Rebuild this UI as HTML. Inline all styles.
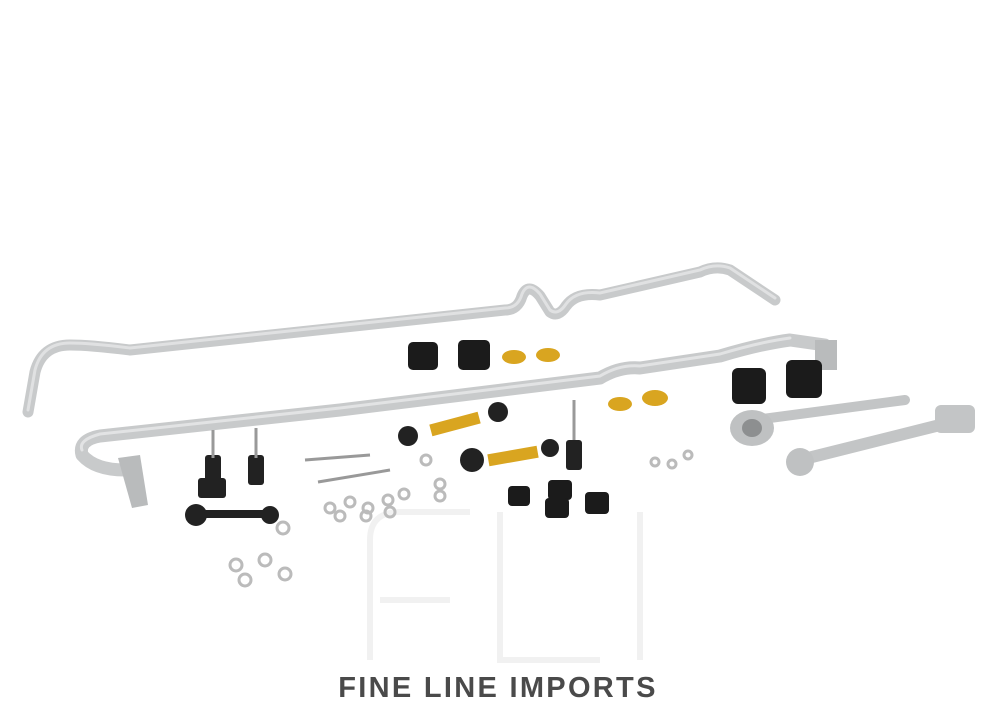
<!DOCTYPE html>
<html><head><meta charset="utf-8"><style>
html,body{margin:0;padding:0;background:#fff;}
#w{position:relative;width:1000px;height:715px;overflow:hidden;background:#fff;}
.t{position:absolute;left:300px;top:672px;width:396px;text-align:center;font-family:"Liberation Sans",sans-serif;font-weight:bold;font-size:29px;color:#4a4a4a;letter-spacing:2.3px;white-space:nowrap;}
</style></head><body><div id="w">
<svg width="1000" height="715" style="position:absolute;left:0;top:0">
<g fill="none" stroke="#f1f1f1" stroke-width="6">
<path d="M370 660 V540 Q370 512 400 512 H470"/>
<path d="M380 600 H450"/>
<path d="M500 512 V660 H600"/>
<path d="M640 512 V660"/>
</g>
<path d="M28 412 L35 372 Q42 345 70 345 Q90 345 130 350 L505 310 Q518 310 522 296 Q528 282 540 296 L550 312 Q558 318 566 306 Q576 292 600 295 L700 272 Q715 265 730 270 L775 300" fill="none" stroke="#c8cacb" stroke-width="11" stroke-linecap="round" stroke-linejoin="round"/>
<path d="M28 412 L35 372 Q42 345 70 345 Q90 345 130 350 L505 310 Q518 310 522 296 Q528 282 540 296 L550 312 Q558 318 566 306 Q576 292 600 295 L700 272 Q715 265 730 270 L775 300" fill="none" stroke="#e0e1e2" stroke-width="3" stroke-linecap="round" transform="translate(0,-2)"/>
<path d="M125 470 Q95 470 82 455 Q78 440 100 436 L340 410 L600 378 Q620 366 640 368 L720 356 Q760 344 790 340 L825 345" fill="none" stroke="#c8cacb" stroke-width="13" stroke-linecap="round" stroke-linejoin="round"/>
<path d="M82 450 Q78 440 100 434 L340 408 L600 376 Q620 364 640 366 L720 354 Q760 342 790 338" fill="none" stroke="#e2e3e4" stroke-width="3" stroke-linecap="round"/>
<polygon points="118,458 140,455 148,505 132,508" fill="#b9bbbc"/>
<rect x="815" y="340" width="22" height="30" fill="#b9bbbc"/>
<g fill="#1b1b1b">
<rect x="408" y="342" width="30" height="28" rx="5"/>
<rect x="458" y="340" width="32" height="30" rx="5"/>
<rect x="732" y="368" width="34" height="36" rx="6"/>
<rect x="786" y="360" width="36" height="38" rx="6"/>
<rect x="508" y="486" width="22" height="20" rx="4"/>
<rect x="548" y="480" width="24" height="20" rx="4"/>
<rect x="545" y="498" width="24" height="20" rx="4"/>
<rect x="585" y="492" width="24" height="22" rx="4"/>
</g>
<g fill="#d9a520">
<ellipse cx="514" cy="357" rx="12" ry="7"/><ellipse cx="548" cy="355" rx="12" ry="7"/>
<ellipse cx="620" cy="404" rx="12" ry="7"/><ellipse cx="655" cy="398" rx="13" ry="8"/>
<rect x="430" y="418" width="50" height="12" transform="rotate(-15 455 424)"/>
<rect x="488" y="450" width="50" height="12" transform="rotate(-10 513 456)"/>
</g>
<g fill="#222">
<circle cx="408" cy="436" r="10"/><circle cx="498" cy="412" r="10"/>
<circle cx="472" cy="460" r="12"/><circle cx="550" cy="448" r="9"/>
<rect x="205" y="455" width="16" height="40" rx="3"/><rect x="248" y="455" width="16" height="30" rx="3"/>
<rect x="198" y="478" width="28" height="20" rx="3"/>
<circle cx="196" cy="515" r="11"/><circle cx="270" cy="515" r="9"/>
<rect x="196" y="510" width="74" height="8"/>
</g>
<g stroke="#999" stroke-width="3">
<line x1="213" y1="430" x2="213" y2="458"/><line x1="256" y1="428" x2="256" y2="458"/>
<line x1="574" y1="400" x2="574" y2="440"/>
<line x1="305" y1="460" x2="370" y2="455"/><line x1="318" y1="482" x2="390" y2="470"/>
</g>
<rect x="566" y="440" width="16" height="30" rx="3" fill="#222"/>
<path d="M755 420 L905 400" stroke="#c3c5c6" stroke-width="10" stroke-linecap="round"/>
<ellipse cx="752" cy="428" rx="22" ry="18" fill="#bfc1c2"/><ellipse cx="752" cy="428" rx="10" ry="9" fill="#8d8f90"/>
<path d="M800 460 L960 420" stroke="#c3c5c6" stroke-width="12" stroke-linecap="round"/>
<ellipse cx="800" cy="462" rx="14" ry="14" fill="#bfc1c2"/>
<rect x="935" y="405" width="40" height="28" rx="6" fill="#c3c5c6"/>
<g fill="none" stroke="#bbb" stroke-width="3">
<circle cx="330" cy="508" r="5"/><circle cx="350" cy="502" r="5"/><circle cx="368" cy="508" r="5"/><circle cx="388" cy="500" r="5"/><circle cx="404" cy="494" r="5"/>
<circle cx="340" cy="516" r="5"/><circle cx="366" cy="516" r="5"/><circle cx="390" cy="512" r="5"/>
<circle cx="236" cy="565" r="6"/><circle cx="265" cy="560" r="6"/><circle cx="245" cy="580" r="6"/><circle cx="285" cy="574" r="6"/>
<circle cx="655" cy="462" r="4"/><circle cx="672" cy="464" r="4"/><circle cx="688" cy="455" r="4"/>
<circle cx="426" cy="460" r="5"/><circle cx="440" cy="484" r="5"/><circle cx="440" cy="496" r="5"/>
<circle cx="283" cy="528" r="6"/>
</g>
</svg>
<div class="t">FINE LINE IMPORTS</div>
</div></body></html>
